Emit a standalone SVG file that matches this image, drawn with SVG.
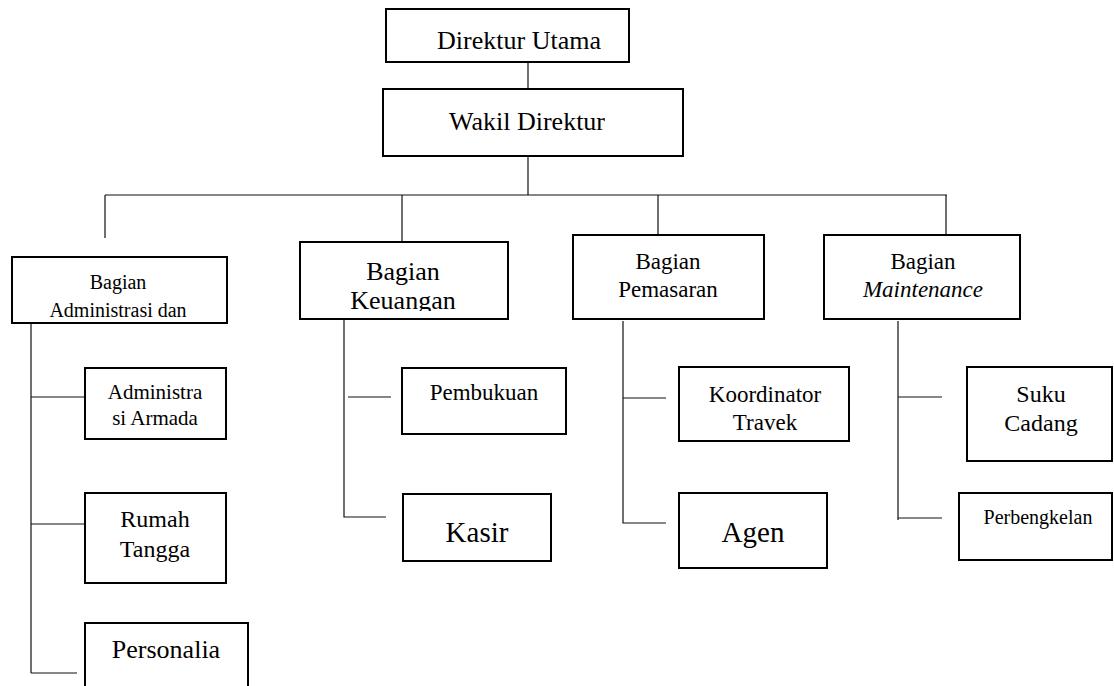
<svg xmlns="http://www.w3.org/2000/svg" width="1114" height="686" viewBox="0 0 1114 686">
<style>
.box{fill:#fff;stroke:#000;stroke-width:2}
.ln{stroke:#111;stroke-width:1.2;fill:none}
text{font-family:'Liberation Serif','Times New Roman',serif;fill:#000;text-anchor:middle}
</style>
<defs>
<clipPath id="cAdm"><rect x="12" y="257" width="215" height="64"/></clipPath>
<clipPath id="cKeu"><rect x="300" y="242" width="208" height="69"/></clipPath>
</defs>
<rect width="1114" height="686" fill="#fff"/>
<g id="connectors">
<path class="ln" d="M528 62V89M528 156V195M105 195H947M105 195V238M402 195V242M658 195V235M946 195V235"/>
<path class="ln" d="M31 323V673M31 397H85M31 524H85M31 673H77"/>
<path class="ln" d="M344 319V517H386M348 397H391"/>
<path class="ln" d="M623 321V523H666M623 398H666"/>
<path class="ln" d="M898 321V520M898 397H942M898 518H942"/>
</g>
<g id="direktur-utama"><rect class="box" x="386" y="9" width="243" height="53"/><text x="519" y="49" font-size="26">Direktur Utama</text></g>
<g id="wakil-direktur"><rect class="box" x="383" y="89" width="300" height="67"/><text x="527" y="130" font-size="26">Wakil Direktur</text></g>
<g id="bagian-administrasi"><rect class="box" x="12" y="257" width="215" height="66"/><g clip-path="url(#cAdm)"><text x="118" y="289" font-size="20">Bagian</text><text x="118" y="317" font-size="20">Administrasi dan</text></g></g>
<g id="bagian-keuangan"><rect class="box" x="300" y="242" width="208" height="77"/><g clip-path="url(#cKeu)"><text x="403" y="280" font-size="26">Bagian</text><text x="403" y="309" font-size="26">Keuangan</text></g></g>
<g id="bagian-pemasaran"><rect class="box" x="573" y="235" width="191" height="84"/><text x="668" y="269" font-size="23">Bagian</text><text x="668" y="297" font-size="23">Pemasaran</text></g>
<g id="bagian-maintenance"><rect class="box" x="824" y="235" width="196" height="84"/><text x="923" y="269" font-size="23">Bagian</text><text x="923" y="297" font-size="23" font-style="italic">Maintenance</text></g>
<g id="administrasi-armada"><rect class="box" x="85" y="368" width="141" height="71"/><text x="155" y="399" font-size="21">Administra</text><text x="155" y="425" font-size="21">si Armada</text></g>
<g id="rumah-tangga"><rect class="box" x="85" y="493" width="141" height="90"/><text x="155" y="527" font-size="24">Rumah</text><text x="155" y="557" font-size="24">Tangga</text></g>
<g id="personalia"><rect class="box" x="85" y="623" width="163" height="70"/><text x="166" y="658" font-size="26">Personalia</text></g>
<g id="pembukuan"><rect class="box" x="402" y="368" width="164" height="66"/><text x="484" y="400" font-size="23">Pembukuan</text></g>
<g id="kasir"><rect class="box" x="403" y="494" width="148" height="67"/><text x="477" y="542" font-size="29">Kasir</text></g>
<g id="koordinator-travek"><rect class="box" x="679" y="367" width="170" height="74"/><text x="765" y="402" font-size="23">Koordinator</text><text x="765" y="430" font-size="23">Travek</text></g>
<g id="agen"><rect class="box" x="679" y="493" width="148" height="75"/><text x="753" y="542" font-size="29">Agen</text></g>
<g id="suku-cadang"><rect class="box" x="967" y="367" width="145" height="94"/><text x="1041" y="402" font-size="24">Suku</text><text x="1041" y="431" font-size="24">Cadang</text></g>
<g id="perbengkelan"><rect class="box" x="959" y="493" width="153" height="67"/><text x="1038" y="524" font-size="20">Perbengkelan</text></g>
</svg>
